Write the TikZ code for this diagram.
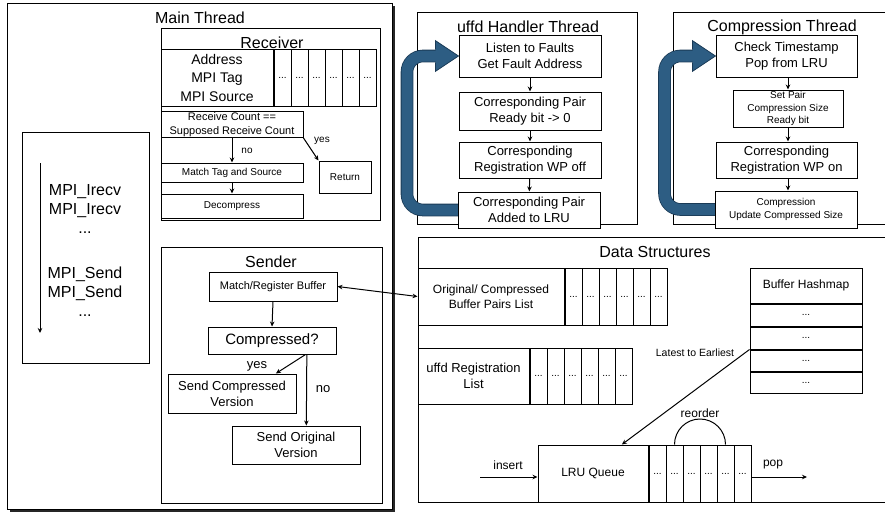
\documentclass[tikz,border=0pt]{standalone}
\usepackage{fontspec}
\setmainfont{Liberation Sans}
\usetikzlibrary{positioning,calc,shadows,arrows.meta}
\definecolor{loopblue}{HTML}{2D5D83}
\definecolor{loopedge}{HTML}{1A3A56}

\tikzset{
  box/.style={draw,line width=1pt,inner sep=0pt,align=center},
  cell/.style={draw,line width=1pt,inner sep=0pt,minimum width=17pt,font=\fontsize{10}{12}\selectfont},
  ttl/.style={font=\fontsize{16}{19}\selectfont},
  big/.style={font=\fontsize{13}{16}\selectfont},
  mid/.style={font=\fontsize{12}{15}\selectfont},
  small/.style={font=\fontsize{10}{12.5}\selectfont},
  flow/.style={->,line width=1pt},
  loop/.style={draw=loopedge,line width=0.8pt,double=loopblue,double distance=11pt,rounded corners=16pt},
  loophead/.style={draw=loopedge,line width=0.8pt,fill=loopblue,line join=miter},
  >={Stealth[length=5pt,width=4.5pt]}
}

\begin{document}
\begin{tikzpicture}[x=1pt,y=-1pt]
\useasboundingbox (0,0) rectangle (885,515);

% Main thread
\node[box,fill=white,minimum width=385pt,minimum height=506pt,
  drop shadow={shadow xshift=2.5pt,shadow yshift=-2.5pt,opacity=0.85,fill=black}] (main) at (199.5,256) {};
\node[ttl] (maint) at (200,18) {Main Thread};

% call sequence
\node[box,minimum width=127pt,minimum height=231pt] (seq) at (85.5,247.5) {};
\coordinate (seqtop) at (40,163);
\coordinate (seqbot) at (40,333);
\draw[flow] (seqtop) -- (seqbot);
\node[ttl,align=center] (irecv) at (85,209) {MPI\_Irecv\\MPI\_Irecv\\...};
\node[ttl,align=center] (send) at (85,292) {MPI\_Send\\MPI\_Send\\...};

% Receiver
\node[box,minimum width=219pt,minimum height=192pt] (recv) at (270.5,124) {};
\node[ttl] (recvt) at (272,43) {Receiver};
\node[box,font=\fontsize{14}{18.5}\selectfont,minimum width=112pt,minimum height=57pt] (addr) at (217,77.5) {Address\\MPI Tag\\MPI Source};
\foreach \i in {0,...,5}
  \node[cell,minimum height=57pt,anchor=west] (rc\i) at ($(addr.east)+(17*\i,0)$) {...};
\node[box,font=\fontsize{11}{14}\selectfont,minimum width=142pt,minimum height=26pt] (rcount) at (232,124.5) {Receive Count ==\\Supposed Receive Count};
\node[box,small,minimum width=142pt,minimum height=19pt] (match) at (232,172.5) {Match Tag and Source};
\node[box,small,minimum width=142pt,minimum height=24pt] (decomp) at (232,206) {Decompress};
\node[box,small,minimum width=52pt,minimum height=32pt] (ret) at (345,177) {Return};
\draw[flow] (rcount.south) -- (match.north);
\draw[flow] (match.south) -- (decomp.north);
\draw[flow] (rcount.south east) -- (ret.north west);
\node[small] (no1) at (247,151) {no};
\node[small] (yes1) at (322,141) {yes};

% Sender
\node[box,minimum width=221pt,minimum height=256pt] (sender) at (271.5,375) {};
\node[ttl] (sendert) at (271,262) {Sender};
\node[box,font=\fontsize{11}{13}\selectfont,minimum width=128pt,minimum height=29pt] (mreg) at (273,286.5) {Match/Register Buffer};
\node[box,font=\fontsize{15}{18}\selectfont,minimum width=128pt,minimum height=27pt] (compr) at (272,340.5) {Compressed?};
\node[box,big,minimum width=128pt,minimum height=39pt] (sendc) at (232,393.5) {Send Compressed\\Version};
\node[box,big,minimum width=128pt,minimum height=38pt] (sendo) at (296,445) {Send Original\\Version};
\draw[flow] (mreg.south) -- (compr.south |- compr.north);
\draw[flow] ($(compr.south west)!0.76!(compr.south east)$) -- ($(sendc.north west)!0.84!(sendc.north east)$);
\draw[flow] ($(compr.south west)!0.77!(compr.south east)$) -- ($(sendo.north west)!0.58!(sendo.north east)$);
\node[big] (yes2) at (257,366) {yes};
\node[big] (no2) at (323,389) {no};

% uffd handler thread
\node[box,minimum width=220pt,minimum height=212pt] (handler) at (527,118) {};
\node[ttl] (handlert) at (528,27) {uffd Handler Thread};
\draw[loop] (530,210) -- (407,210) |- (437,56);
\node[box,fill=white,big,minimum width=142pt,minimum height=42pt] (listen) at (530,56) {Listen to Faults\\Get Fault Address};
\node[box,big,minimum width=142pt,minimum height=38pt] (ready) at (530,111) {Corresponding Pair\\Ready bit -> 0};
\node[box,big,minimum width=142pt,minimum height=36pt] (wpoff) at (530,160) {Corresponding\\Registration WP off};
\node[box,fill=white,big,minimum width=142pt,minimum height=36pt] (added) at (529,210) {Corresponding Pair\\Added to LRU};
\filldraw[loophead] ($(listen.west)+(-23,-6.3)$) -- ++(0,-9) -- (listen.west) -- ($(listen.west)+(-23,15.3)$) -- ++(0,-9);
\draw[flow] (listen) -- (ready);
\draw[flow] (ready) -- (wpoff);
\draw[flow] (wpoff) -- (added);

% compression thread
\node[box,minimum width=227pt,minimum height=212pt] (cthread) at (786.5,118) {};
\node[ttl] (cthreadt) at (782,27) {Compression Thread};
\draw[loop] (786,209.5) -- (664.5,209.5) |- (694,56);
\node[box,fill=white,big,minimum width=141pt,minimum height=42pt] (check) at (786.5,56) {Check Timestamp\\Pop from LRU};
\node[box,small,minimum width=110pt,minimum height=37pt] (setp) at (788,108.5) {Set Pair\\Compression Size\\Ready bit};
\node[box,big,minimum width=141pt,minimum height=36pt] (wpon) at (786.5,160) {Corresponding\\Registration WP on};
\node[box,fill=white,small,minimum width=142pt,minimum height=37pt] (cupd) at (786,209.5) {Compression\\Update Compressed Size};
\filldraw[loophead] ($(check.west)+(-23,-6.3)$) -- ++(0,-9) -- (check.west) -- ($(check.west)+(-23,15.3)$) -- ++(0,-9);
\draw[flow] (check.south -| setp.north) -- (setp.north);
\draw[flow] (setp.south) -- (setp.south |- wpon.north);
\draw[flow] (wpon.south -| setp.south) -- (setp.south |- cupd.north);

% data structures
\node[box,minimum width=482pt,minimum height=265pt] (data) at (659,369.5) {};
\node[ttl] (datat) at (655,252) {Data Structures};
\node[box,mid,minimum width=146pt,minimum height=57pt] (pairs) at (491,296.5) {Original/ Compressed\\Buffer Pairs List};
\foreach \i in {0,...,5}
  \node[cell,minimum height=57pt,anchor=west] (pc\i) at ($(pairs.east)+(17*\i,0)$) {...};
\node[box,big,minimum width=111pt,minimum height=56pt] (regs) at (473.5,376) {uffd Registration\\List};
\foreach \i in {0,...,5}
  \node[cell,minimum height=56pt,anchor=west] (gc\i) at ($(regs.east)+(17*\i,0)$) {...};
\node[box,mid,minimum width=112pt,minimum height=35pt] (hash) at (806,285.5) {Buffer Hashmap};
\node[cell,minimum width=112pt,minimum height=22pt,below=0pt of hash] (hr1) {...};
\node[cell,minimum width=112pt,minimum height=22pt,below=0pt of hr1] (hr2) {...};
\node[cell,minimum width=112pt,minimum height=21pt,below=0pt of hr2] (hr3) {...};
\node[cell,minimum width=112pt,minimum height=21pt,below=0pt of hr3] (hr4) {...};
\node[box,mid,minimum width=110pt,minimum height=57pt] (lru) at (593,473.5) {LRU Queue};
\foreach \i in {0,...,5}
  \node[cell,minimum height=57pt,anchor=west] (lc\i) at ($(lru.east)+(17*\i,0)$) {...};
\draw[line width=1pt] (lc1.north) arc[start angle=180,end angle=0,radius=25.5pt];
\node[mid] (reord) at (700,413) {reorder};
\draw[flow] (hr2.south west) -- ($(lru.north west)!0.76!(lru.north east)$);
\node[small,font=\fontsize{10.5}{12}\selectfont] (latest) at (695,353) {Latest to Earliest};
\coordinate (ins) at (480,477);
\coordinate (popend) at (807,477);
\draw[flow] (ins) -- (ins -| lru.west);
\draw[flow] (ins -| lc5.east) -- (popend);
\node[mid] (inst) at (508,465) {insert};
\node[mid] (popt) at (773,465) {pop};

% sender <-> buffer pairs
\draw[<->,line width=1pt] (mreg.east) -- (pairs.west);
\end{tikzpicture}
\end{document}
